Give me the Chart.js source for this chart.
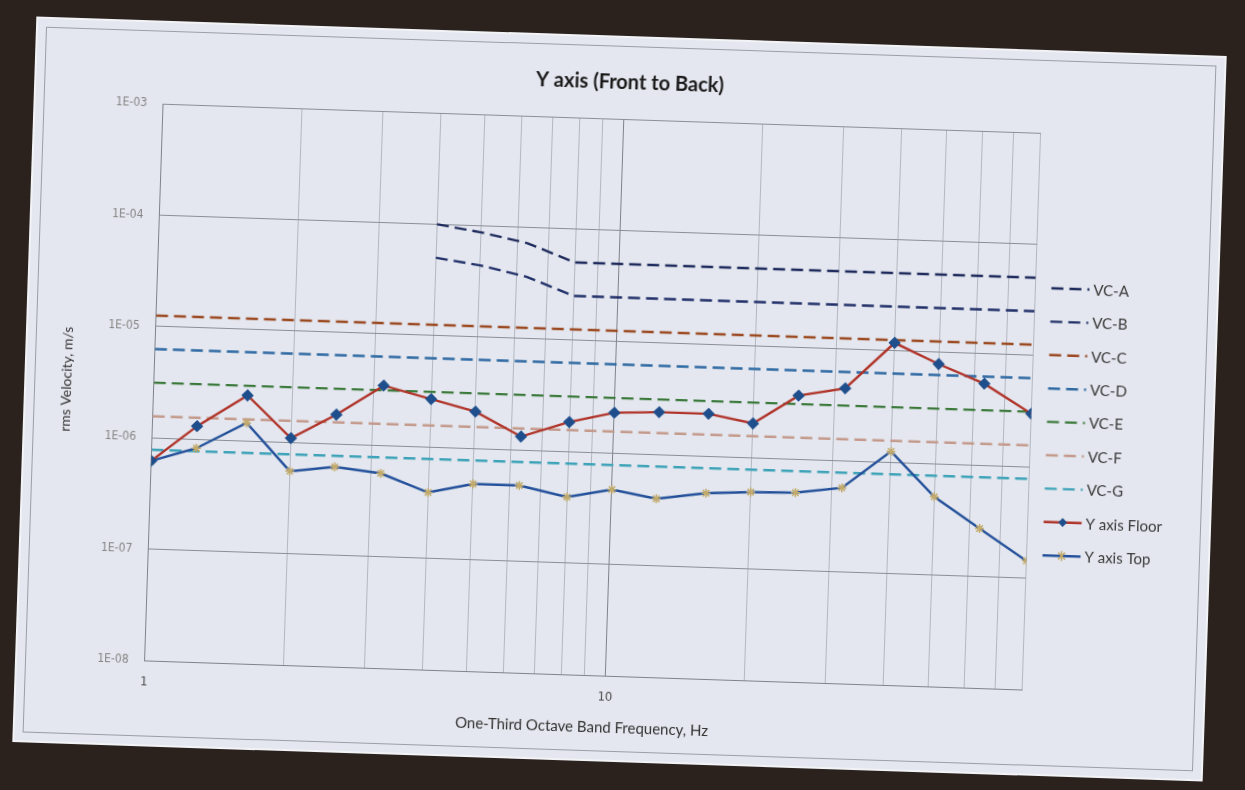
<!DOCTYPE html>
<html lang="en">
<head>
  <meta charset="UTF-8" />
  <title>Y axis (Front to Back)</title>
  <script src="https://cdn.jsdelivr.net/npm/chart.js@4.4.0/dist/chart.umd.min.js"></script>
  <style>
    html, body { margin: 0; padding: 0; }
    body { width: 1245px; height: 790px; overflow: hidden; background: #2b221d; position: relative; }
    .screen {
      position: absolute; left: 26px; top: 38px; width: 1187px; height: 722px;
      background: #e4e7ef; transform: rotate(1.9deg);
      box-shadow: 0 0 0 2px #f2f3f7;
    }
    .frame { position: absolute; left: 8px; top: 8px; right: 8px; bottom: 8px; border: 1px solid #9a9ea8; }
    canvas { position: absolute; left: 0; top: 0; }
  </style>
</head>
<body>
  <div class="screen">
    <div class="frame"></div>
    <canvas id="vcChart" width="1187" height="722"></canvas>
  </div>
  <script>
    // one-third octave band centre frequencies, Hz
    const freqs = [1, 1.25, 1.6, 2, 2.5, 3.15, 4, 5, 6.3, 8, 10, 12.5, 16, 20, 25, 31.5, 40, 50, 63, 80];

    // measured rms velocity, m/s
    const floorVel = [6.2e-7, 1.31e-6, 2.56e-6, 1.09e-6, 1.83e-6, 3.44e-6, 2.69e-6, 2.14e-6, 1.32e-6, 1.84e-6,
                      2.30e-6, 2.40e-6, 2.40e-6, 2.03e-6, 3.72e-6, 4.46e-6, 1.18e-5, 7.85e-6, 5.4e-6, 3.0e-6];
    const topVel = [6.2e-7, 8.3e-7, 1.45e-6, 5.5e-7, 6.2e-7, 5.6e-7, 3.9e-7, 4.8e-7, 4.8e-7, 3.9e-7,
                    4.7e-7, 4.0e-7, 4.65e-7, 4.9e-7, 5.0e-7, 5.7e-7, 1.25e-6, 5.05e-7, 2.7e-7, 1.43e-7];

    // vibration criterion curves, m/s
    const vcA = [null, null, null, null, null, null, 1.0e-4, 8.7e-5, 7.2e-5, 5.0e-5,
                 5.0e-5, 5.0e-5, 5.0e-5, 5.0e-5, 5.0e-5, 5.0e-5, 5.0e-5, 5.0e-5, 5.0e-5, 5.0e-5];
    const vcB = [null, null, null, null, null, null, 5.0e-5, 4.4e-5, 3.6e-5, 2.5e-5,
                 2.5e-5, 2.5e-5, 2.5e-5, 2.5e-5, 2.5e-5, 2.5e-5, 2.5e-5, 2.5e-5, 2.5e-5, 2.5e-5];
    const vcC = [1.25e-5, 1.25e-5, 1.25e-5, 1.25e-5, 1.25e-5, 1.25e-5, 1.25e-5, 1.25e-5, 1.25e-5, 1.25e-5,
                 1.25e-5, 1.25e-5, 1.25e-5, 1.25e-5, 1.25e-5, 1.25e-5, 1.25e-5, 1.25e-5, 1.25e-5, 1.25e-5];
    const vcD = [6.25e-6, 6.25e-6, 6.25e-6, 6.25e-6, 6.25e-6, 6.25e-6, 6.25e-6, 6.25e-6, 6.25e-6, 6.25e-6,
                 6.25e-6, 6.25e-6, 6.25e-6, 6.25e-6, 6.25e-6, 6.25e-6, 6.25e-6, 6.25e-6, 6.25e-6, 6.25e-6];
    const vcE = [3.12e-6, 3.12e-6, 3.12e-6, 3.12e-6, 3.12e-6, 3.12e-6, 3.12e-6, 3.12e-6, 3.12e-6, 3.12e-6,
                 3.12e-6, 3.12e-6, 3.12e-6, 3.12e-6, 3.12e-6, 3.12e-6, 3.12e-6, 3.12e-6, 3.12e-6, 3.12e-6];
    const vcF = [1.56e-6, 1.56e-6, 1.56e-6, 1.56e-6, 1.56e-6, 1.56e-6, 1.56e-6, 1.56e-6, 1.56e-6, 1.56e-6,
                 1.56e-6, 1.56e-6, 1.56e-6, 1.56e-6, 1.56e-6, 1.56e-6, 1.56e-6, 1.56e-6, 1.56e-6, 1.56e-6];
    const vcG = [7.8e-7, 7.8e-7, 7.8e-7, 7.8e-7, 7.8e-7, 7.8e-7, 7.8e-7, 7.8e-7, 7.8e-7, 7.8e-7,
                 7.8e-7, 7.8e-7, 7.8e-7, 7.8e-7, 7.8e-7, 7.8e-7, 7.8e-7, 7.8e-7, 7.8e-7, 7.8e-7];

    // axis ticks
    const xTicks = [1, 2, 3, 4, 5, 6, 7, 8, 9, 10, 20, 30, 40, 50, 60, 70, 80];
    const xLabelled = [1, 10];
    const yTicks = [1e-8, 1e-7, 1e-6, 1e-5, 1e-4, 1e-3];

    const narrow = "'Liberation Sans Narrow', 'DejaVu Sans Condensed', sans-serif";

    function toPoints(values) {
      return values.map((v, i) => ({ x: freqs[i], y: v }));
    }

    function vcLine(label, values, color) {
      return {
        label: label, data: toPoints(values), borderColor: color, backgroundColor: color,
        borderWidth: 2.4, borderDash: [12, 6], pointRadius: 0, tension: 0, order: 1
      };
    }

    // Excel style legend down the right side: line sample, marker, text
    const sideLegend = {
      id: 'sideLegend',
      afterDraw(chart) {
        const ctx = chart.ctx;
        const x0 = chart.chartArea.right + 16;
        const y0 = 236, step = 33.4;
        chart.data.datasets.forEach((ds, i) => {
          const y = y0 + i * step;
          ctx.save();
          ctx.strokeStyle = ds.borderColor;
          ctx.lineWidth = ds.borderWidth;
          ctx.setLineDash(ds.borderDash || []);
          ctx.beginPath();
          ctx.moveTo(x0, y);
          ctx.lineTo(x0 + 38, y);
          ctx.stroke();
          ctx.setLineDash([]);
          const cx = x0 + 19;
          if (ds.pointStyle === 'rectRot') {
            ctx.fillStyle = ds.pointBackgroundColor;
            ctx.beginPath();
            ctx.moveTo(cx, y - 4.5); ctx.lineTo(cx + 4.5, y); ctx.lineTo(cx, y + 4.5); ctx.lineTo(cx - 4.5, y);
            ctx.closePath();
            ctx.fill();
          } else if (ds.pointStyle === 'star') {
            ctx.strokeStyle = ds.pointBorderColor;
            ctx.lineWidth = 1.5;
            ctx.beginPath();
            ctx.moveTo(cx - 3.5, y - 3.5); ctx.lineTo(cx + 3.5, y + 3.5);
            ctx.moveTo(cx + 3.5, y - 3.5); ctx.lineTo(cx - 3.5, y + 3.5);
            ctx.moveTo(cx, y - 5); ctx.lineTo(cx, y + 5);
            ctx.stroke();
          }
          ctx.fillStyle = '#3a3a3a';
          ctx.font = '15px Lato';
          ctx.textBaseline = 'middle';
          ctx.fillText(ds.label, x0 + 42, y + 1);
          ctx.restore();
        });
      }
    };

    new Chart(document.getElementById('vcChart'), {
      type: 'line',
      data: {
        datasets: [
          vcLine('VC-A', vcA, '#1e2b5c'),
          vcLine('VC-B', vcB, '#22306a'),
          vcLine('VC-C', vcC, '#9b4a22'),
          vcLine('VC-D', vcD, '#2f6aa3'),
          vcLine('VC-E', vcE, '#3c7a3c'),
          vcLine('VC-F', vcF, '#c49a8c'),
          vcLine('VC-G', vcG, '#3ea3b8'),
          {
            label: 'Y axis Floor', data: toPoints(floorVel), borderColor: '#b0342a', borderWidth: 2.4,
            pointStyle: 'rectRot', pointRadius: 4.5, pointBackgroundColor: '#1f4e8c', pointBorderColor: '#1f4e8c',
            tension: 0, order: 0
          },
          {
            label: 'Y axis Top', data: toPoints(topVel), borderColor: '#23509a', borderWidth: 2.4,
            pointStyle: 'star', pointRadius: 4.5, pointBorderWidth: 1.5, pointBorderColor: '#c2aa6c',
            pointBackgroundColor: '#c2aa6c', tension: 0, order: 0
          }
        ]
      },
      options: {
        responsive: false,
        animation: false,
        layout: { padding: 0 },
        plugins: {
          legend: { display: false },
          tooltip: { enabled: false },
          title: {
            display: true, text: 'Y axis (Front to Back)', color: '#1a1a1a',
            font: { family: 'Lato', size: 20, weight: 'bold', lineHeight: 1.2 },
            padding: { top: 33, bottom: 24 }
          }
        },
        scales: {
          x: {
            type: 'logarithmic', min: 1, max: 80,
            afterBuildTicks: s => { s.ticks = xTicks.map(v => ({ value: v })); },
            afterFit: s => { s.height = 84; },
            ticks: {
              autoSkip: false, maxRotation: 0, padding: 14, color: '#4a4a4a',
              font: { family: narrow, size: 13 },
              callback: v => xLabelled.includes(v) ? String(v) : ''
            },
            grid: {
              drawTicks: false,
              color: c => (c.tick && c.tick.value === 10) ? '#7e828b' : '#b3b7c0',
              lineWidth: 1
            },
            border: { color: '#7e828b', width: 1 },
            title: {
              display: true, text: 'One-Third Octave Band Frequency, Hz', color: '#333',
              font: { family: 'Lato', size: 15 }, padding: { top: 0, bottom: 23 }
            }
          },
          y: {
            type: 'logarithmic', min: 1e-8, max: 1e-3,
            afterBuildTicks: s => { s.ticks = yTicks.map(v => ({ value: v })); },
            afterFit: s => { s.width = 127.5; },
            ticks: {
              autoSkip: false, padding: 16, color: '#858585',
              font: { family: narrow, size: 12 },
              callback: v => {
                const e = Math.round(Math.log10(v));
                return '1E' + (e < 0 ? '-' : '+') + String(Math.abs(e)).padStart(2, '0');
              }
            },
            grid: { drawTicks: false, color: '#8a8e97', lineWidth: 1 },
            border: { color: '#7e828b', width: 1 },
            title: {
              display: true, text: 'rms Velocity, m/s', color: '#333',
              font: { family: 'Lato', size: 14 }, padding: { top: 32, bottom: 0 }
            }
          },
          // empty strip on the right that holds the legend
          legendSpace: {
            type: 'linear', position: 'right', display: true,
            afterFit: s => { s.width = 181.5; },
            ticks: { display: false },
            grid: { display: false, drawOnChartArea: false },
            border: { display: false }
          }
        }
      },
      plugins: [sideLegend]
    });
  </script>
</body>
</html>
